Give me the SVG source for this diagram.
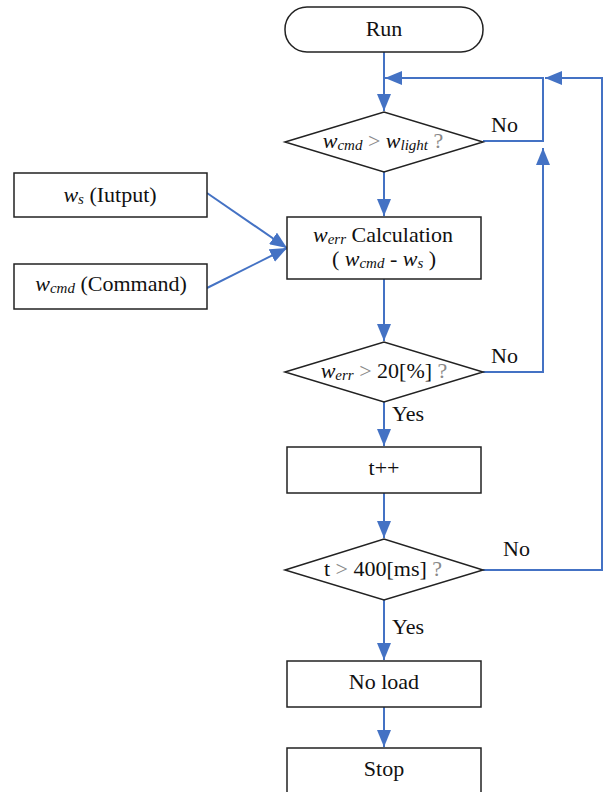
<svg xmlns="http://www.w3.org/2000/svg" width="604" height="792" viewBox="0 0 604 792">
<defs>
<marker id="ah" markerUnits="userSpaceOnUse" markerWidth="18" markerHeight="14" refX="17" refY="7" orient="auto">
<path d="M0,0 L17,7 L0,14 Z" fill="#4472C4"/>
</marker>
<style>
.box{fill:#fff;stroke:#222;stroke-width:1.5}
.ln{fill:none;stroke:#4472C4;stroke-width:2}
text{font-family:'Liberation Serif','DejaVu Serif',serif;font-size:22px;fill:#111}
.c{text-anchor:middle}
.i{font-style:italic}
.s{font-style:italic;font-size:15px}
.g{fill:#888}
</style>
</defs>
<rect width="604" height="792" fill="#fff"/>
<g id="connectors">
<path class="ln" d="M384,52 V111" marker-end="url(#ah)"/>
<path class="ln" d="M384,172 V216" marker-end="url(#ah)"/>
<path class="ln" d="M384,279 V341" marker-end="url(#ah)"/>
<path class="ln" d="M384,402 V446" marker-end="url(#ah)"/>
<path class="ln" d="M384,493 V538" marker-end="url(#ah)"/>
<path class="ln" d="M384,600 V660" marker-end="url(#ah)"/>
<path class="ln" d="M384,707 V747" marker-end="url(#ah)"/>
<path class="ln" d="M483,141 H543 V78 H385" marker-end="url(#ah)"/>
<path class="ln" d="M483,372 H543 V148" marker-end="url(#ah)"/>
<path class="ln" d="M483,570 H602 V78 H545" marker-end="url(#ah)"/>
<path class="ln" d="M207,193 L287,248" marker-end="url(#ah)"/>
<path class="ln" d="M207,288 L287,248" marker-end="url(#ah)"/>
<text x="491" y="132">No</text>
<text x="491" y="363">No</text>
<text x="503" y="556">No</text>
<text x="392" y="421">Yes</text>
<text x="392" y="634">Yes</text>
</g>
<g id="run">
<rect class="box" x="285" y="7" width="198" height="45" rx="22" ry="22"/>
<text class="c" x="384" y="36">Run</text>
</g>
<g id="check-light">
<polygon class="box" points="285,142 384,112 483,142 384,172"/>
<text class="c" x="383" y="148"><tspan class="i">w</tspan><tspan class="s" dy="2">cmd</tspan><tspan class="g" dy="-2"> &gt; </tspan><tspan class="i">w</tspan><tspan class="s" dy="2">light</tspan><tspan class="g" dy="-2">  ?</tspan></text>
</g>
<g id="input-ws">
<rect class="box" x="14" y="173" width="193" height="44"/>
<text class="c" x="110" y="202"><tspan class="i">w</tspan><tspan class="s" dy="2">s</tspan><tspan dy="-2"> (Iutput)</tspan></text>
</g>
<g id="input-wcmd">
<rect class="box" x="14" y="264" width="193" height="45"/>
<text class="c" x="111" y="291"><tspan class="i">w</tspan><tspan class="s" dy="2">cmd</tspan><tspan dy="-2"> (Command)</tspan></text>
</g>
<g id="calc">
<rect class="box" x="287" y="217" width="194" height="62"/>
<text class="c" x="383" y="242"><tspan class="i">w</tspan><tspan class="s" dy="2">err</tspan><tspan dy="-2"> Calculation</tspan></text>
<text class="c" x="384" y="266">( <tspan class="i">w</tspan><tspan class="s" dy="2">cmd</tspan><tspan dy="-2"> - </tspan><tspan class="i">w</tspan><tspan class="s" dy="2">s</tspan><tspan dy="-2">  )</tspan></text>
</g>
<g id="check-err">
<polygon class="box" points="285,372 384,342 483,372 384,402"/>
<text class="c" x="384" y="378"><tspan class="i">w</tspan><tspan class="s" dy="2">err</tspan><tspan class="g" dy="-2">  &gt; </tspan><tspan>20[%] </tspan><tspan class="g">?</tspan></text>
</g>
<g id="inc">
<rect class="box" x="287" y="447" width="194" height="46"/>
<text class="c" x="384" y="475">t++</text>
</g>
<g id="check-time">
<polygon class="box" points="285,570 384,539 483,570 384,600"/>
<text class="c" x="383" y="576">t <tspan class="g">&gt;</tspan> 400[ms] <tspan class="g">?</tspan></text>
</g>
<g id="noload">
<rect class="box" x="287" y="661" width="194" height="46"/>
<text class="c" x="384" y="689">No load</text>
</g>
<g id="stop">
<rect class="box" x="287" y="748" width="194" height="60"/>
<text class="c" x="384" y="776">Stop</text>
</g>
</svg>
